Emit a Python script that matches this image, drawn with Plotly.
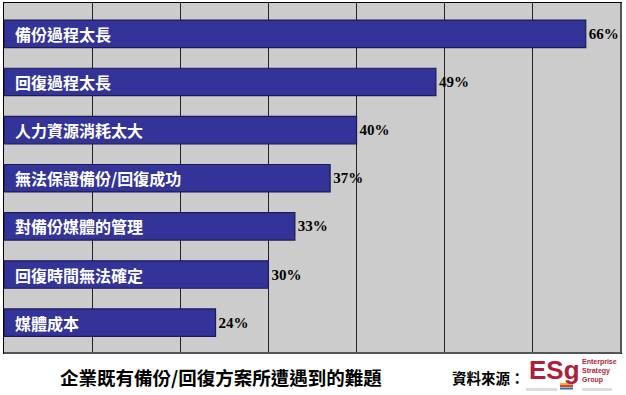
import plotly.graph_objects as go

categories = ["備份過程太長", "回復過程太長", "人力資源消耗太大", "無法保證備份/回復成功",
              "對備份媒體的管理", "回復時間無法確定", "媒體成本"]
values = [66, 49, 40, 37, 33, 30, 24]
value_labels = ["66%", "49%", "40%", "37%", "33%", "30%", "24%"]
title_text = "企業既有備份/回復方案所遭遇到的難題"
source_text = "資料來源："

W, H = 626, 395
L, R, T, B = 4, 621, 3, 353  # plot area in pixels


def pxx(x):
    return (x - L) / (R - L)


def pxy(y):
    return (B - y) / (B - T)


fig = go.Figure()
fig.add_trace(go.Bar(
    x=values, y=categories, orientation="h",
    marker=dict(color="#333399", line=dict(color="#1c1c55", width=1.2)),
    width=0.57,
    text=value_labels, textposition="outside", cliponaxis=False,
    constraintext="none",
    textfont=dict(family="Liberation Serif", size=15, color="black", weight="bold"),
    hoverinfo="skip",
))

for c in categories:
    fig.add_annotation(x=0, y=c, xref="x", yref="y", text=c, showarrow=False,
                       xanchor="left", xshift=9, yshift=0,
                       font=dict(family="Noto Sans CJK TC", size=16, color="white", weight="bold"))

fig.add_annotation(x=pxx(221), y=pxy(377), xref="paper", yref="paper", text=title_text,
                   showarrow=False, xanchor="center", yanchor="middle",
                   font=dict(family="Noto Sans CJK TC", size=18.5, color="black", weight="bold"))
fig.add_annotation(x=pxx(488), y=pxy(377), xref="paper", yref="paper", text=source_text,
                   showarrow=False, xanchor="center", yanchor="middle",
                   font=dict(family="Noto Sans CJK TC", size=14.5, color="black", weight="bold"))
fig.add_annotation(x=pxx(527), y=pxy(370), xref="paper", yref="paper", text="ESg",
                   showarrow=False, xanchor="left", yanchor="middle",
                   font=dict(family="Liberation Sans", size=26, color="#b01e3a", weight="bold"))
fig.add_annotation(x=pxx(580), y=pxy(371), xref="paper", yref="paper",
                   text="Enterprise<br>Strategy<br>Group", align="left",
                   showarrow=False, xanchor="left", yanchor="middle",
                   font=dict(family="Liberation Sans", size=7, color="#b01e3a", weight="bold"))

shapes = []
for (x0, y0, x1, y1, col) in [(526, 388, 557, 391, "#dddddd"), (582, 388, 612, 391, "#dddddd")]:
    shapes.append(dict(type="rect", xref="paper", yref="paper", x0=pxx(x0), y0=pxy(y1),
                       x1=pxx(x1), y1=pxy(y0), fillcolor=col, line=dict(width=0), layer="above"))
for (yy, col) in [(384, "#e8b23a"), (386, "#d6462a"), (388.5, "#2e6db4")]:
    shapes.append(dict(type="line", xref="paper", yref="paper", x0=pxx(560), x1=pxx(573),
                       y0=pxy(yy), y1=pxy(yy), line=dict(color=col, width=2)))
shapes.append(dict(type="line", xref="paper", yref="paper", x0=1, x1=1, y0=0, y1=1,
                   line=dict(color="#555555", width=2)))
shapes.append(dict(type="line", xref="paper", yref="paper", x0=0, x1=1, y0=0, y1=0,
                   line=dict(color="#555555", width=2)))
fig.update_layout(shapes=shapes)

fig.update_layout(
    width=W, height=H,
    margin=dict(l=L, r=W - R, t=T, b=H - B, autoexpand=False),
    paper_bgcolor="white", plot_bgcolor="#cccccc",
    showlegend=False,
    xaxis=dict(range=[0, 70], dtick=10, showgrid=True, gridcolor="#222222", gridwidth=1,
               showticklabels=False, ticks="", zeroline=False,
               showline=True, linecolor="black", linewidth=1, mirror=True, fixedrange=True),
    yaxis=dict(type="category", categoryorder="array", categoryarray=categories,
               range=[6.63, -0.64], showticklabels=False, ticks="", showgrid=False,
               showline=True, linecolor="black", linewidth=1, mirror=True, fixedrange=True),
)

fig.write_html("out.html", config={"displayModeBar": False},
               post_script="document.body.style.margin='0';")
